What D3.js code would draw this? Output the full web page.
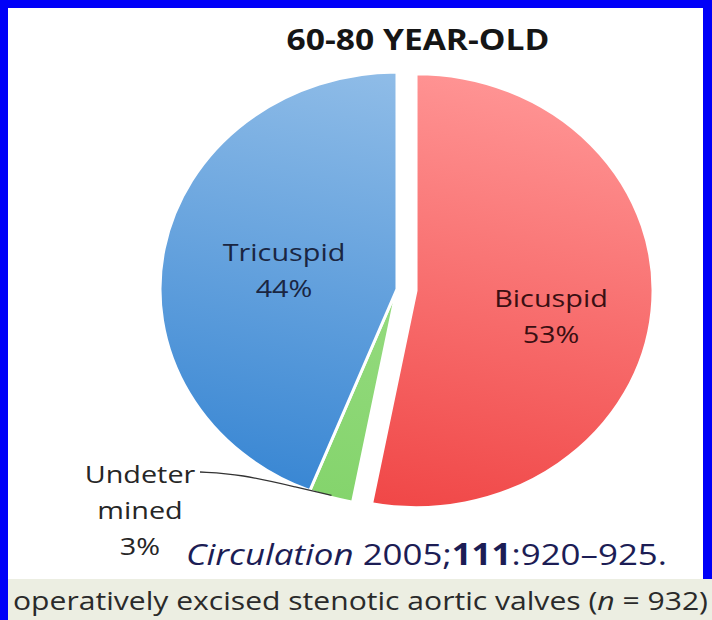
<!DOCTYPE html>
<html>
<head>
<meta charset="utf-8">
<script src="https://cdn.jsdelivr.net/npm/d3@7"></script>
<style>
  html, body { margin: 0; padding: 0; background: #fff; }
  svg { display: block; }
</style>
</head>
<body>
<svg id="chart" width="712" height="620"></svg>
<script>
// Valve morphology shares, 60-80 year-old group
const categories = ["Bicuspid", "Undetermined", "Tricuspid"];
const shares = [53, 3, 44];
// How each category name is broken over lines in its label
const nameLines = [["Bicuspid"], ["Undeter", "mined"], ["Tricuspid"]];
const exploded = [true, false, false];
const titleText = "60-80 YEAR-OLD";
const citation = { journal: "Circulation", year: " 2005;", volume: "111", pages: ":920\u2013925." };
const caption = { before: "operatively excised stenotic aortic valves (", n: "n", after: " = 932)" };

// ---- layout ----
const W = 712, H = 620;
const cx = 397, cy = 289;
const R = 217;              // vertical radius
const sxPie = 237 / 217;    // horizontal stretch of the pie
const explodeDist = 17.5;   // in arc units
const textStretch = 1.2;

const fills = {
  Bicuspid:     ["#ff9494", "#f04646"],
  Undetermined: ["#a6e192", "#84d46c"],
  Tricuspid:    ["#92bee8", "#3886d3"]
};
const labelInk = { Bicuspid: "#3a0f12", Undetermined: "#262626", Tricuspid: "#1a2642" };
// label anchors (centre of the text block)
const labelPos = {
  Bicuspid:     [551, 316],
  Undetermined: [140, 510],
  Tricuspid:    [284, 270]
};

const svg = d3.select("#chart");

// frame: blue border, white page, grey caption strip
svg.append("rect").attr("width", W).attr("height", H).attr("fill", "#0000f8");
svg.append("rect").attr("x", 8).attr("y", 8).attr("width", 695).attr("height", 572).attr("fill", "#ffffff");
svg.append("rect").attr("x", 8).attr("y", 579).attr("width", W - 8).attr("height", H - 579).attr("fill", "#eceee2");

const defs = svg.append("defs");
categories.forEach((c, i) => {
  const g = defs.append("linearGradient")
    .attr("id", "grad" + i)
    .attr("gradientUnits", "userSpaceOnUse")
    .attr("x1", 50).attr("y1", -R).attr("x2", -50).attr("y2", R);
  g.append("stop").attr("offset", "0%").attr("stop-color", fills[c][0]);
  g.append("stop").attr("offset", "100%").attr("stop-color", fills[c][1]);
});

const pie = d3.pie().sort(null).value(d => d)(shares);
const arc = d3.arc().innerRadius(0).outerRadius(R);

const pieG = svg.append("g")
  .attr("transform", `translate(${cx},${cy}) scale(${sxPie},1)`);

pieG.selectAll("path.slice")
  .data(pie)
  .join("path")
  .attr("class", "slice")
  .attr("d", arc)
  .attr("fill", (d, i) => `url(#grad${i})`)
  .attr("stroke", "#ffffff")
  .attr("stroke-width", 3)
  .attr("vector-effect", "non-scaling-stroke")
  .attr("transform", (d, i) => {
    if (!exploded[i]) return null;
    const a = (d.startAngle + d.endAngle) / 2;
    return `translate(${explodeDist * Math.sin(a)},${-explodeDist * Math.cos(a)})`;
  });

// screen position of a point on a slice
function slicePoint(d, frac) {
  const a = (d.startAngle + d.endAngle) / 2;
  return [cx + sxPie * R * frac * Math.sin(a), cy - R * frac * Math.cos(a)];
}

// leader line for the small slice
const undIdx = categories.indexOf("Undetermined");
const tip = slicePoint(pie[undIdx], 0.99);
const leader = d3.line().curve(d3.curveBasis);
svg.append("path")
  .attr("d", leader([[200, 472], [240, 474], [300, 488], tip]))
  .attr("fill", "none")
  .attr("stroke", "#333")
  .attr("stroke-width", 1.3);

// stretched text helper
function label(x, y, str, size, opts = {}) {
  const g = svg.append("g").attr("transform", `translate(${x},${y}) scale(${opts.sx || textStretch},1)`);
  return g.append("text")
    .attr("text-anchor", opts.anchor || "middle")
    .attr("font-family", "'Open Sans', sans-serif")
    .attr("font-size", size)
    .attr("font-weight", opts.weight || 400)
    .attr("fill", opts.fill || "#222")
    .text(str);
}

// slice labels
const lineGap = 36;
categories.forEach((c, i) => {
  const lines = nameLines[i].concat([shares[i] + "%"]);
  const [lx, ly] = labelPos[c];
  const n = lines.length;
  lines.forEach((t, k) => {
    const base = ly + (k - (n - 1) / 2) * lineGap + 8.5;
    label(lx, base, t, 24, { fill: labelInk[c] });
  });
});

// title
label(418, 50, titleText, 28, { weight: 700, fill: "#151515" });

// citation
const cit = svg.append("text")
  .attr("x", 186).attr("y", 565)
  .attr("font-family", "'Open Sans', sans-serif")
  .attr("font-size", 30)
  .attr("fill", "#1c1d55")
  .attr("textLength", 481)
  .attr("lengthAdjust", "spacingAndGlyphs");
cit.append("tspan").attr("font-style", "italic").text(citation.journal);
cit.append("tspan").text(citation.year);
cit.append("tspan").attr("font-weight", 700).text(citation.volume);
cit.append("tspan").text(citation.pages);

// caption strip
const cap = svg.append("text")
  .attr("x", 13).attr("y", 610)
  .attr("font-family", "'Open Sans', sans-serif")
  .attr("font-size", 26)
  .attr("fill", "#2a2a2a")
  .attr("textLength", 695)
  .attr("lengthAdjust", "spacingAndGlyphs");
cap.append("tspan").text(caption.before);
cap.append("tspan").attr("font-style", "italic").text(caption.n);
cap.append("tspan").text(caption.after);
</script>
</body>
</html>
